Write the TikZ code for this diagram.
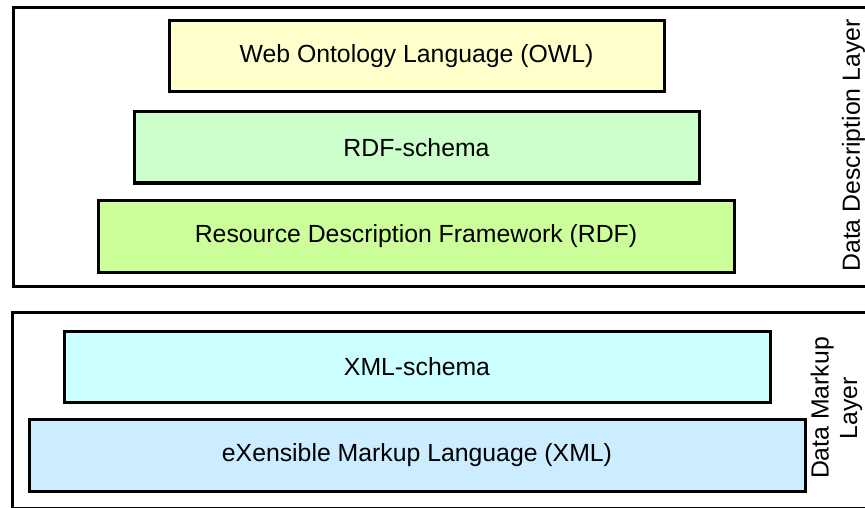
\documentclass[tikz,border=0pt]{standalone}
\usepackage{fontspec}
\setmainfont{Liberation Sans}
\definecolor{owlc}{HTML}{FFFFCC}
\definecolor{rdfsc}{HTML}{CCFFCC}
\definecolor{rdfc}{HTML}{CCFF99}
\definecolor{xmlsc}{HTML}{CCFFFF}
\definecolor{xmlc}{HTML}{CCECFF}
\begin{document}
\begin{tikzpicture}[x=1pt,y=-1pt,
  layerbox/.style={draw=black,line width=3pt,fill=white,rectangle,inner sep=0pt},
  techbox/.style={draw=black,line width=3pt,rectangle,inner sep=0pt,minimum height=71pt,
    font=\fontsize{24.8}{29}\selectfont},
  sidelabel/.style={rotate=90,align=center,inner sep=0pt,font=\fontsize{24.8}{28.5}\selectfont}]
\useasboundingbox (0,0) rectangle (865,508);
\clip (0,0) rectangle (865,508);
% outer layers
\node[layerbox,minimum width=870pt,minimum height=278.5pt,anchor=north west] (top) at (11.5,6.5) {};
\node[layerbox,minimum width=870pt,minimum height=196.5pt,anchor=north west] (bot) at (11,310.5) {};
% description layer
\node[techbox,fill=owlc,minimum width=495pt] (owl) at (416.5,56.5) {Web Ontology Language (OWL)};
\node[techbox,fill=rdfsc,minimum width=565pt] (rdfs) at (416.5,147.5) {RDF-schema};
\node[techbox,fill=rdfc,minimum width=636pt,minimum height=72pt] (rdf) at (416,236) {Resource Description Framework (RDF)};
% markup layer
\node[techbox,fill=xmlsc,minimum width=706pt] (xmls) at (417,366.5) {XML-schema};
\node[techbox,fill=xmlc,minimum width=776pt,minimum height=72pt] (xml) at (417,455) {eXensible Markup Language (XML)};
% side labels
\node[sidelabel] (ddl) at (853.5,145.5) {Data Description Layer};
\node[sidelabel] (dml) at (836.5,408) {Data Markup\\Layer};
\end{tikzpicture}
\end{document}
